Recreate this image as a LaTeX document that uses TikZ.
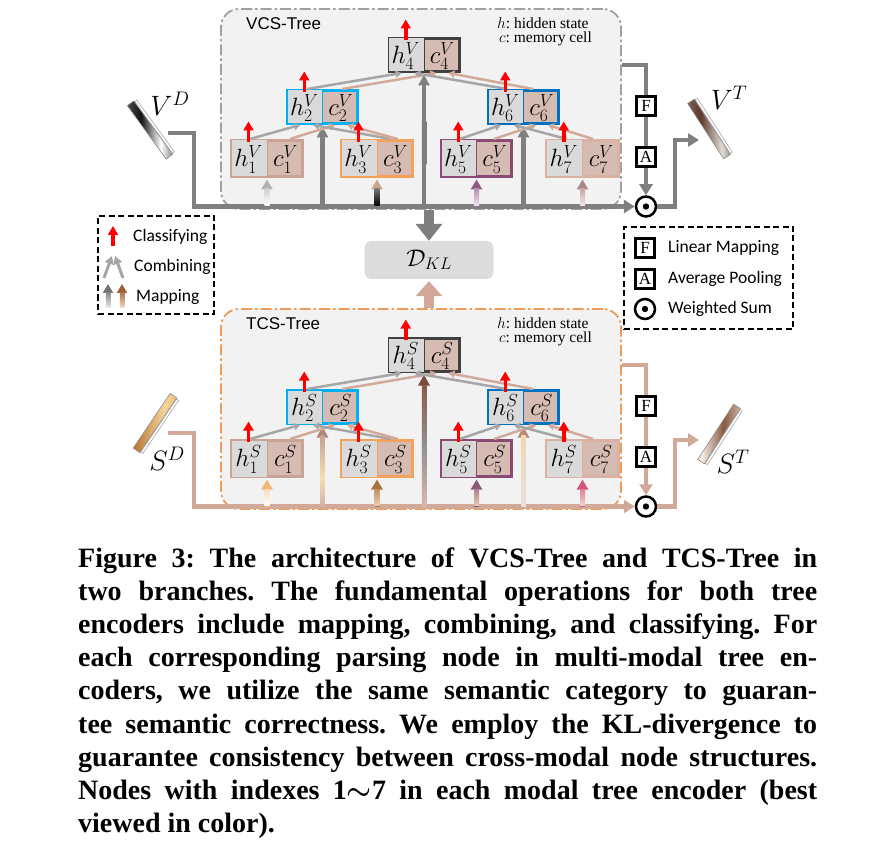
\RequirePackage{fix-cm}
\documentclass[tikz,border=0pt]{standalone}
\usepackage{fontspec}
\setmainfont{Liberation Serif}
\newfontfamily\lsans{Liberation Sans}
\newfontfamily\carl{Carlito}
\usetikzlibrary{arrows.meta,calc}
\frenchspacing

\definecolor{panelfill}{HTML}{F2F2F2}
\definecolor{hgray}{HTML}{DADADA}
\definecolor{crose}{HTML}{D5BBB2}
\definecolor{lgray}{HTML}{7F7F7F}
\definecolor{cgray}{HTML}{A6A6A6}
\definecolor{crline}{HTML}{D2AA9A}
\definecolor{rline}{HTML}{D2A999}
\definecolor{bA}{HTML}{C9A395}
\definecolor{bC}{HTML}{F4A15A}
\definecolor{bE}{HTML}{8B4A73}
\definecolor{bG}{HTML}{D9B2A4}
\definecolor{bB}{HTML}{00B0F0}
\definecolor{bF}{HTML}{0070C0}
\definecolor{bD}{HTML}{404040}
\definecolor{vborder}{HTML}{A0A0A0}
\definecolor{sborder}{HTML}{EE9B5C}
\definecolor{dklfill}{HTML}{DCDCDC}
\definecolor{dklup}{HTML}{D4A898}
\definecolor{vt1}{HTML}{B0A498}\definecolor{vt2}{HTML}{5E3A2C}\definecolor{vt3}{HTML}{E2DCD6}\definecolor{vt4}{HTML}{3A3A3A}
\definecolor{sd1}{HTML}{9A5A25}\definecolor{sd2}{HTML}{E8B468}\definecolor{sd3}{HTML}{F5D49A}\definecolor{sd4}{HTML}{C0803E}
\definecolor{st1}{HTML}{E2B04A}\definecolor{st2}{HTML}{F4ECE6}\definecolor{st3}{HTML}{8A5A40}\definecolor{st4}{HTML}{DCC8BC}
% mapping / long arrow colours
\definecolor{mv3h}{HTML}{C8A888}
\definecolor{mv5h}{HTML}{8A5A80}\definecolor{mv5t}{HTML}{B890B0}\definecolor{mv5b}{HTML}{EEE2EC}
\definecolor{mv7h}{HTML}{A88888}\definecolor{mv7t}{HTML}{C8A8A8}\definecolor{mv7b}{HTML}{F2E6E6}
\definecolor{lcyan}{HTML}{30B8EC}\definecolor{lblue}{HTML}{0A68BE}
\definecolor{ms1h}{HTML}{F0B878}\definecolor{ms1t}{HTML}{F8DCB8}
\definecolor{ms3h}{HTML}{A8743E}\definecolor{ms3t}{HTML}{C09060}\definecolor{ms3b}{HTML}{E8D0B0}
\definecolor{ms5h}{HTML}{8A5A78}\definecolor{ms5t}{HTML}{B08090}\definecolor{ms5b}{HTML}{E6CCB0}
\definecolor{ms7h}{HTML}{D05878}\definecolor{ms7t}{HTML}{E08098}\definecolor{ms7b}{HTML}{F2D0D0}
\definecolor{ls2h}{HTML}{B08474}\definecolor{ls2a}{HTML}{C8A090}\definecolor{ls2b}{HTML}{30B0E0}
\definecolor{ls2c}{HTML}{F5DEB3}\definecolor{ls2d}{HTML}{E6CFC0}\definecolor{ls2e}{HTML}{D2B0A6}
\definecolor{ls4h}{HTML}{7B4B3B}\definecolor{ls4a}{HTML}{8A5A4A}\definecolor{ls4b}{HTML}{C09080}
\definecolor{ls4c}{HTML}{909090}\definecolor{ls4d}{HTML}{F3D3A3}\definecolor{ls4e}{HTML}{D8B8B0}
\definecolor{ls6h}{HTML}{B88878}\definecolor{ls6a}{HTML}{F0D8B0}\definecolor{ls6b}{HTML}{1565B5}\definecolor{ls6c}{HTML}{E8E0E0}
\definecolor{legbr}{HTML}{A0603A}\definecolor{legbrt}{HTML}{B07850}\definecolor{legbrb}{HTML}{F0D8C0}

\pgfdeclarehorizontalshading{vdbar}{100bp}{color(0bp)=(black!35); color(40bp)=(black!92); color(62bp)=(white); color(86bp)=(black!85); color(100bp)=(black!50)}
\pgfdeclarehorizontalshading{vtbar}{100bp}{color(0bp)=(vt1); color(40bp)=(vt2); color(65bp)=(vt3); color(88bp)=(vt4); color(100bp)=(vt1)}
\pgfdeclarehorizontalshading{sdbar}{100bp}{color(0bp)=(sd1); color(30bp)=(sd4); color(60bp)=(sd3); color(85bp)=(sd2); color(100bp)=(sd4)}
\pgfdeclarehorizontalshading{stbar}{100bp}{color(0bp)=(st1); color(30bp)=(st2); color(55bp)=(st3); color(80bp)=(st4); color(100bp)=(st3)}

\colorlet{ml}{lgray}
\colorlet{pb}{vborder}

\tikzset{
  panelbox/.style={rounded corners=18pt, line width=1.8pt, draw=pb, fill=panelfill,
    dash pattern=on 11pt off 3pt on 2.5pt off 3pt, minimum width=400pt, minimum height=200pt, inner sep=0pt},
  tbox/.style={line width=3pt, fill=crose, inner sep=0pt},
  celltxt/.style={inner sep=0pt, font=\fontsize{25}{25}\selectfont},
  titletxt/.style={anchor=west, inner sep=0pt, font=\lsans\fontsize{17}{17}\selectfont},
  keytxt/.style={anchor=west, inner sep=0pt, font=\fontsize{15.5}{15.5}\selectfont},
  mainln/.style={draw=ml, line width=4.5pt, -{Triangle[width=13pt,length=11pt]}},
  sumc/.style={circle, draw=black, fill=white, line width=2.5pt, minimum size=20pt, inner sep=0pt},
  opbox/.style={draw=black, fill=white, line width=2.2pt, minimum size=19pt, inner sep=0pt, font=\fontsize{17}{17}\selectfont},
  combg/.style={draw=cgray, line width=2.5pt, -{Triangle[width=7pt,length=6pt]}},
  combr/.style={draw=crline, line width=2.5pt, -{Triangle[width=7pt,length=6pt]}},
  clsarr/.style={draw=red, line width=3.5pt, -{Triangle[width=10pt,length=9pt]}},
  bar/.style={minimum width=66pt, minimum height=8pt, inner sep=0pt, draw=black!45, line width=0.6pt},
  strip/.style={minimum width=64pt, minimum height=2.5pt, inner sep=0pt, fill=white, draw=black!40, line width=0.5pt},
  lbl/.style={inner sep=0pt, font=\fontsize{28}{28}\selectfont},
  legbox/.style={draw=black, line width=1.6pt, dash pattern=on 6pt off 3.5pt, inner sep=0pt},
  legtxt/.style={anchor=west, inner sep=0pt, font=\carl\fontsize{17.5}{17.5}\selectfont},
  capline/.style={anchor=base west, inner sep=0pt, font=\bfseries\fontsize{28}{28}\selectfont},
}

% tree node: name, position, border colour, path width, path height, index
\newcommand\TN[6]{%
  \node[tbox, draw=#3, minimum width=#4pt, minimum height=#5pt] (#1) at #2 {};
  \fill[hgray] ([shift={(1.5,1.5)}]#1.north west) rectangle ([shift={(0,-1.5)}]#1.south);
  \draw[#3, line width=0.8pt] (#1.north) -- (#1.south);
  \node[celltxt] at ($(#1.west)!0.25!(#1.east)+(0,1)$) {$h^{\SL}_{#6}$};
  \node[celltxt] at ($(#1.west)!0.75!(#1.east)+(0,1)$) {$c^{\SL}_{#6}$};
}
\newcommand\comb[6]{%
  \draw[combg] ($(#1.north west)!#3!(#1.north east)$) -- ([xshift=#5pt]#2.south);
  \draw[combr] ($(#1.north west)!#4!(#1.north east)$) -- ([xshift=#6pt]#2.south);
}
\newcommand\cls[1]{%
  \draw[clsarr] ($(#1.north west)!0.25!(#1.north east)+(0,3)$) -- ++(0,-20.5);
}
% mapping arrow: node, head colour, shaft top colour, shaft bottom colour
\newcommand\maparr[4]{%
  \coordinate (tmpb) at (#1.south |- 0,206.5);
  \draw[line width=5pt, draw=#2, -{Triangle[width=11pt,length=10pt]}] (tmpb) -- ([shift={(0,1.5)}]#1.south);
  \shade[top color=#3, bottom color=#4] ($(tmpb)+(-2.5,-1)$) rectangle ($(#1.south)+(2.5,11)$);
}
% long arrow: node, colour
\newcommand\longarr[2]{%
  \coordinate (tmpb) at (#1.south |- 0,206.5);
  \draw[line width=4.5pt, draw=#2, -{Triangle[width=11pt,length=11pt]}] (tmpb) -- ([shift={(0,1.5)}]#1.south);
}
% shaded patch on a long arrow: node, y1, y2, top, middle, bottom
\newcommand\patch[6]{%
  \shade[top color=#4, middle color=#5, bottom color=#6] ($(#1.south |- 0,#2)+(-2.25,0)$) rectangle ($(#1.south |- 0,#3)+(2.25,0)$);
}

\newcommand\drawpanel[2]{%
  \node[panelbox] (#1panel) at (421,109) {};
  \node[titletxt] at (246,24) {#2};
  \node[keytxt] at (497,23) {$h$: hidden state};
  \node[keytxt] at (499,39) {$c$: memory cell};
  \coordinate (#1in) at (168,133);
  \node[sumc] (#1sum) at (646,206.5) {};
  \coordinate (#1out) at (622,65);
  \coordinate (#1tip) at (699,140);
  \draw[mainln] (#1in) -| (194,206.5) -- (#1sum.west);
  \draw[mainln] (#1out) -| (#1sum.north);
  \draw[mainln] (#1sum.east) -- (675,206.5) |- (#1tip);
  \fill (#1sum) circle (3.2pt);
  \node[opbox] (#1F) at (646,106) {F};
  \node[opbox] (#1A) at (646,157) {A};
  \TN{#1n4}{(424,55)}{bD}{70}{33}{4}
  \TN{#1n2}{(322.5,107)}{bB}{70}{33}{2}
  \TN{#1n6}{(523.5,107)}{bF}{70}{33}{6}
  \TN{#1n1}{(267,158.5)}{bA}{71}{36}{1}
  \TN{#1n3}{(377,158.5)}{bC}{71}{36}{3}
  \TN{#1n5}{(476.5,158.5)}{bE}{70}{36}{5}
  \TN{#1n7}{(582.5,158.5)}{bG}{72}{36}{7}
}
\newcommand\drawtop[1]{%
  \comb{#1n1}{#1n2}{0.27}{0.81}{-22.5}{12.5}
  \comb{#1n3}{#1n2}{0.69}{0.78}{-9.5}{24.5}
  \comb{#1n5}{#1n6}{0.27}{0.74}{-22.5}{12.5}
  \comb{#1n7}{#1n6}{0.29}{0.64}{-9.5}{24.5}
  \comb{#1n2}{#1n4}{0.29}{0.77}{-22.5}{12.5}
  \comb{#1n6}{#1n4}{0.27}{0.63}{-9.5}{24.5}
  \cls{#1n1}\cls{#1n2}\cls{#1n3}\cls{#1n4}\cls{#1n5}\cls{#1n6}\cls{#1n7}
}

\begin{document}
\begin{tikzpicture}[x=1pt, y=-1pt]
\useasboundingbox (0,0) rectangle (892,845);

% ================= VCS-Tree =================
\def\SL{V}
\colorlet{ml}{lgray}\colorlet{pb}{vborder}
\drawpanel{V}{VCS-Tree}
\maparr{Vn1}{black!30}{black!18}{white}
\maparr{Vn3}{mv3h}{black!55}{black}
\maparr{Vn5}{mv5h}{mv5t}{mv5b}
\maparr{Vn7}{mv7h}{mv7t}{mv7b}
\longarr{Vn2}{lgray}
\patch{Vn2}{142}{182}{lgray}{lcyan}{lgray}
\longarr{Vn4}{lgray}
\patch{Vn4}{122}{165}{lgray}{white}{lgray}
\longarr{Vn6}{lgray}
\patch{Vn6}{142}{182}{lgray}{lblue}{lgray}
\drawtop{V}

% ================= TCS-Tree =================
\begin{scope}[shift={(0,300)}]
\def\SL{S}
\colorlet{ml}{rline}\colorlet{pb}{sborder}
\drawpanel{S}{TCS-Tree}
\maparr{Sn1}{ms1h}{ms1t}{white}
\maparr{Sn3}{ms3h}{ms3t}{ms3b}
\maparr{Sn5}{ms5h}{ms5t}{ms5b}
\maparr{Sn7}{ms7h}{ms7t}{ms7b}
\longarr{Sn2}{ls2h}
\patch{Sn2}{135}{178}{ls2a}{ls2b}{ls2c}
\patch{Sn2}{178}{206}{ls2c}{ls2d}{ls2e}
\longarr{Sn4}{ls4h}
\patch{Sn4}{85}{145}{ls4a}{ls4b}{ls4c}
\patch{Sn4}{145}{206}{ls4c}{ls4d}{ls4e}
\longarr{Sn6}{ls6h}
\patch{Sn6}{135}{206}{ls6a}{ls6b}{ls6c}
\drawtop{S}
\end{scope}

% ================= input / output bars =================
\node[bar, shading=vdbar, rotate=-54] (VDbar) at (150,130) {};
\node[strip, rotate=-54] at ($(VDbar)+(4.6,-3.3)$) {};
\node[lbl] (VDl) at (170,104) {$V^D$};
\node[bar, shading=vtbar, rotate=-57] (VTbar) at (709,129) {};
\node[strip, rotate=-57] at ($(VTbar)+(4.8,-3.1)$) {};
\node[lbl] (VTl) at (729,98) {$V^T$};
\node[bar, shading=sdbar, rotate=56] (SDbar) at (155,423) {};
\node[strip, rotate=56] at ($(SDbar)+(4.7,3.2)$) {};
\node[lbl] (SDl) at (167,459) {$S^D$};
\node[bar, shading=stbar, rotate=57] (STbar) at (719,434) {};
\node[strip, rotate=57] at ($(STbar)+(4.8,3.1)$) {};
\node[lbl] (STl) at (733,462) {$S^T$};

% ================= D_KL =================
\node[rounded corners=7pt, fill=dklfill, minimum width=129pt, minimum height=38pt, inner sep=0pt,
      font=\fontsize{24}{24}\selectfont] (dkl) at (429,260) {$\mathcal{D}_{KL}$};
\draw[line width=10pt, draw=lgray, -{Triangle[width=26pt,length=17pt]}] (Vpanel.south -| dkl.north) -- (dkl.north);
\draw[line width=10pt, draw=dklup, -{Triangle[width=26pt,length=15pt]}] (Spanel.north -| dkl.south) -- ([yshift=-2pt]dkl.south);

% ================= left legend =================
\node[legbox, minimum width=116pt, minimum height=98pt] (leg1) at (156,265) {};
\coordinate (c1a) at (113,246); \coordinate (c1b) at (113,226);
\draw[clsarr] (c1a) -- (c1b);
\node[legtxt] at (133,237) {Classifying};
\coordinate (c2a) at (104,278); \coordinate (c2b) at (112,256);
\coordinate (c2c) at (123,278); \coordinate (c2d) at (115,256);
\draw[combg, line width=3pt, -{Triangle[width=9pt,length=8pt]}] (c2a) -- (c2b);
\draw[combg, line width=3pt, -{Triangle[width=9pt,length=8pt]}] (c2c) -- (c2d);
\node[legtxt] at (134,267) {Combining};
\coordinate (c3a) at (108,307); \coordinate (c3b) at (108,284);
\coordinate (c3c) at (122,307); \coordinate (c3d) at (122,284);
\draw[line width=4.5pt, draw=black!55, -{Triangle[width=10pt,length=9pt]}] (c3a) -- (c3b);
\shade[top color=black!45, bottom color=black!10] (105.75,293) rectangle (110.25,307);
\draw[line width=4.5pt, draw=legbr, -{Triangle[width=10pt,length=9pt]}] (c3c) -- (c3d);
\shade[top color=legbrt, bottom color=legbrb] (119.75,293) rectangle (124.25,307);
\node[legtxt] at (136,297) {Mapping};

% ================= right legend =================
\node[legbox, minimum width=169pt, minimum height=102pt] (leg2) at (708.5,278) {};
\node[opbox] (lF) at (645,248) {F};
\node[legtxt] at (668,248) {Linear Mapping};
\node[opbox] (lA) at (645,279) {A};
\node[legtxt] at (668,279) {Average Pooling};
\node[sumc] (lS) at (645,309) {};
\fill (lS) circle (3.2pt);
\node[legtxt] at (668,309) {Weighted Sum};

% ================= caption =================
\node[capline] at (78,567) {\makebox[739pt][s]{Figure 3: The architecture of VCS-Tree and TCS-Tree in}};
\node[capline] at (78,600.2) {\makebox[739pt][s]{two branches. The fundamental operations for both tree}};
\node[capline] at (78,633.4) {\makebox[739pt][s]{encoders include mapping, combining, and classifying. For}};
\node[capline] at (78,666.6) {\makebox[739pt][s]{each corresponding parsing node in multi-modal tree en-}};
\node[capline] at (78,699.8) {\makebox[739pt][s]{coders, we utilize the same semantic category to guaran-}};
\node[capline] at (78,733) {\makebox[739pt][s]{tee semantic correctness. We employ the KL-divergence to}};
\node[capline] at (78,766.2) {\makebox[739pt][s]{guarantee consistency between cross-modal node structures.}};
\node[capline] at (78,799.4) {\makebox[739pt][s]{Nodes with indexes 1{\boldmath$\sim$}7 in each modal tree encoder (best}};
\node[capline] at (78,832.6) {viewed in color).};
\end{tikzpicture}
\end{document}
